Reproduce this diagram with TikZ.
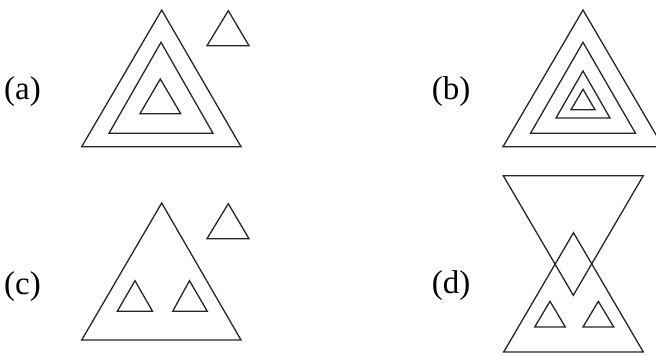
\documentclass[tikz,border=0pt]{standalone}
\usepackage{fontspec}
\setmainfont{Liberation Serif}
\begin{document}
\begin{tikzpicture}[x=1pt,y=-1pt,
  tri/.style={draw=black!85,line width=1.3pt,line join=miter},
  lab/.style={font=\fontsize{33}{38}\selectfont,inner sep=0pt}]
\useasboundingbox (0,0) rectangle (656,354);
\clip (0,0) rectangle (656,354);
% (a)
\node[lab] (la) at (22.5,92) {(a)};
\draw[tri] (161.7,10) -- (241,146.7) -- (81.7,146.7) -- cycle;
\draw[tri] (161,42.3) -- (213,133.3) -- (109,133.3) -- cycle;
\draw[tri] (160.3,79) -- (180.7,113.7) -- (140,113.7) -- cycle;
\draw[tri] (228.3,10.7) -- (249,45.7) -- (207,45.7) -- cycle;
% (b)
\node[lab] (lb) at (451,92) {(b)};
\draw[tri] (583,10) -- (663,146.7) -- (503,146.7) -- cycle;
\draw[tri] (583,42.3) -- (635.5,133.3) -- (530.5,133.3) -- cycle;
\draw[tri] (583,71) -- (610,118) -- (556,118) -- cycle;
\draw[tri] (583,89.3) -- (595,109.7) -- (571,109.7) -- cycle;
% (c)
\node[lab] (lc) at (22.5,287) {(c)};
\draw[tri] (161.7,203) -- (241,340) -- (81.7,340) -- cycle;
\draw[tri] (228.3,203.7) -- (249,238.7) -- (207,238.7) -- cycle;
\draw[tri] (135,280.7) -- (152.5,311.3) -- (117.3,311.3) -- cycle;
\draw[tri] (189.5,280.7) -- (207.3,311.3) -- (172.7,311.3) -- cycle;
% (d)
\node[lab] (ld) at (451,285.5) {(d)};
\draw[tri] (503.3,175.7) -- (643.3,175.7) -- (573.3,295.3) -- cycle;
\draw[tri] (573.5,232.7) -- (643.3,352) -- (503.7,352) -- cycle;
\draw[tri] (550,301.3) -- (565.3,327) -- (534.7,327) -- cycle;
\draw[tri] (598.3,301.3) -- (613.7,327) -- (583,327) -- cycle;
\end{tikzpicture}
\end{document}
